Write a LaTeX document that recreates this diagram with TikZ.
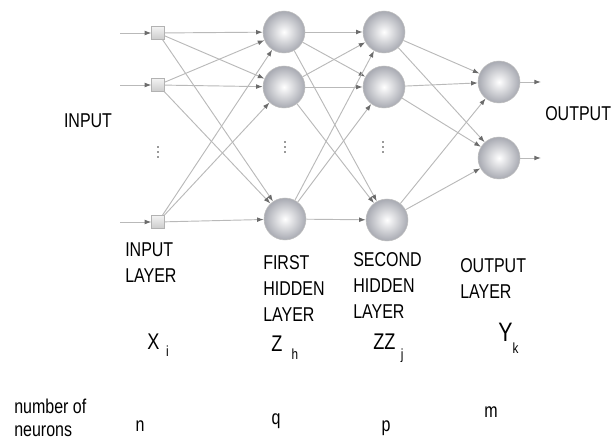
\documentclass[tikz,border=0pt]{standalone}
\usepackage{fontspec}
\setmainfont{Liberation Sans}[FakeStretch=0.8]
\usetikzlibrary{arrows.meta}

\definecolor{rimgray}{RGB}{168,170,178}
\newcommand{\subsz}{\fontsize{11}{12}\selectfont}

\tikzset{
  neur/.style={circle, minimum size=31.5pt, inner sep=0pt, draw=gray!50, line width=0.4pt,
    inner color=white, outer color=rimgray},
  inbox/.style={rectangle, minimum size=9.5pt, inner sep=0pt, draw=gray!60, line width=0.4pt,
    top color=gray!10, bottom color=gray!40},
  conn/.style={gray!55, line width=0.7pt, -{Latex[length=5pt,width=3.6pt,color=gray!85!black]}},
  lbl/.style={inner sep=0pt, align=left, font=\fontsize{15}{19.5}\selectfont},
  varlbl/.style={inner sep=0pt, anchor=base west, font=\fontsize{17}{19}\selectfont},
  dotmark/.style={gray!40!black}
}

\begin{document}
\begin{tikzpicture}[x=0.75pt, y=-0.75pt]
  \useasboundingbox (0,0) rectangle (611,441);

  % strato di ingresso
  \node[inbox] (i1) at (158,33) {};
  \node[inbox] (i2) at (158,85) {};
  \node[inbox] (i3) at (158,222) {};
  \coordinate (ia1) at (120,33);
  \coordinate (ia2) at (120,85);
  \coordinate (ia3) at (120,222);

  % primo strato nascosto
  \node[neur] (h1) at (284,32) {};
  \node[neur] (h2) at (284,87) {};
  \node[neur] (h3) at (285,219) {};

  % secondo strato nascosto
  \node[neur] (g1) at (384,32) {};
  \node[neur] (g2) at (384,87) {};
  \node[neur] (g3) at (387,220) {};

  % strato di uscita
  \node[neur] (o1) at (499,82) {};
  \node[neur] (o2) at (499,158) {};
  \coordinate (oa1) at (541,82);
  \coordinate (oa2) at (541,158);

  % puntini
  \fill[dotmark] (158,147) circle (0.8) (158,152) circle (0.8) (158,157) circle (0.8);
  \fill[dotmark] (285,142) circle (0.8) (285,147) circle (0.8) (285,152) circle (0.8);
  \fill[dotmark] (383,142) circle (0.8) (383,147) circle (0.8) (383,152) circle (0.8);

  % collegamenti
  \draw[conn] (ia1) -- (i1);
  \draw[conn] (ia2) -- (i2);
  \draw[conn] (ia3) -- (i3);

  \draw[conn] (i1) -- (h1);
  \draw[conn] (i1) -- (h2);
  \draw[conn] (i1) -- (h3);
  \draw[conn] (i2) -- (h1);
  \draw[conn] (i2) -- (h2);
  \draw[conn] (i2) -- (h3);
  \draw[conn] (i3) -- (h1);
  \draw[conn] (i3) -- (h2);
  \draw[conn] (i3) -- (h3);

  \draw[conn] (h1) -- (g1);
  \draw[conn] (h1) -- (g2);
  \draw[conn] (h1) -- (g3);
  \draw[conn] (h2) -- (g1);
  \draw[conn] (h2) -- (g2);
  \draw[conn] (h2) -- (g3);
  \draw[conn] (h3) -- (g1);
  \draw[conn] (h3) -- (g2);
  \draw[conn] (h3) -- (g3);

  \draw[conn] (g1) -- (o1);
  \draw[conn] (g1) -- (o2);
  \draw[conn] (g2) -- (o1);
  \draw[conn] (g2) -- (o2);
  \draw[conn] (g3) -- (o1);
  \draw[conn] (g3) -- (o2);

  \draw[conn] (o1) -- (oa1);
  \draw[conn] (o2) -- (oa2);

  % etichette
  \node[lbl] (tin) at (88,121) {INPUT};
  \node[lbl, anchor=west] (tout) at (545,114) {OUTPUT};
  \node[lbl, anchor=north west] (lin) at (125,242) {INPUT\\LAYER};
  \node[lbl, anchor=north west] (lh1) at (263,255) {FIRST\\HIDDEN\\LAYER};
  \node[lbl, anchor=north west] (lh2) at (353,252) {SECOND\\HIDDEN\\LAYER};
  \node[lbl, anchor=north west] (lout) at (460,258) {OUTPUT\\LAYER};

  % variabili
  \node[varlbl] (vx) at (147,350) {X\hspace{5pt}\raisebox{-5pt}{\subsz i}};
  \node[varlbl] (vz) at (271,352) {Z\hspace{7pt}\raisebox{-6pt}{\subsz h}};
  \node[varlbl] (vzz) at (373,350) {ZZ\hspace{4pt}\raisebox{-7pt}{\subsz j}};
  \node[varlbl, font=\fontsize{20}{22}\selectfont] (vy) at (498,342) {Y\raisebox{-9pt}{\subsz k}};

  % numero di neuroni
  \node[lbl, anchor=north west, font=\fontsize{15}{17}\selectfont] (nn) at (14,399) {number of\\neurons};
  \node[lbl, anchor=base] (cn) at (140,432) {n};
  \node[lbl, anchor=base] (cq) at (276,425) {q};
  \node[lbl, anchor=base] (cp) at (386,432) {p};
  \node[lbl, anchor=base] (cm) at (491,418) {m};
\end{tikzpicture}
\end{document}
